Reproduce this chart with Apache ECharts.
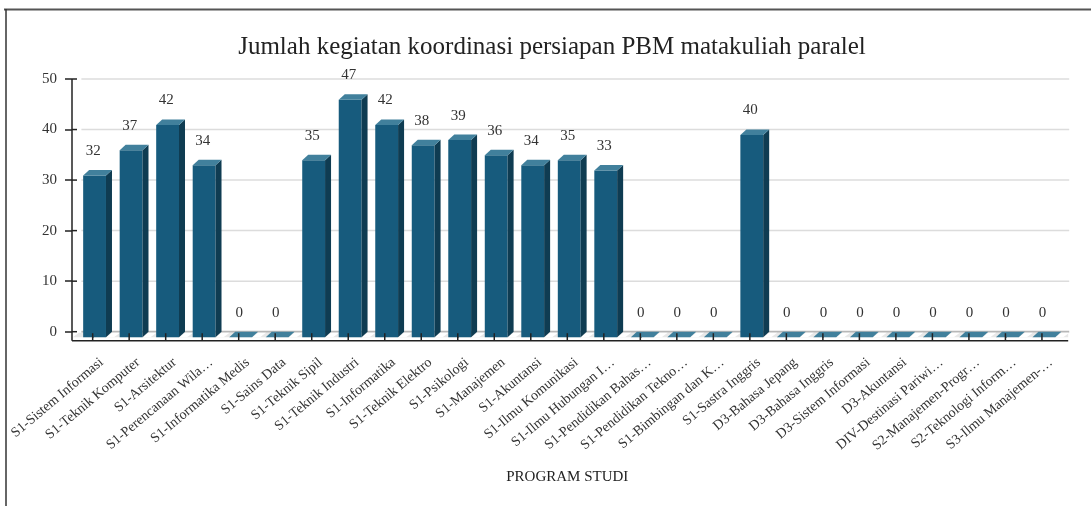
<!DOCTYPE html>
<html><head><meta charset="utf-8">
<script src="https://cdn.jsdelivr.net/npm/echarts@6/dist/echarts.min.js"></script>
<style>html,body{margin:0;padding:0;background:#fff}#c{width:1091px;height:506px}</style>
</head><body><div id="c"></div>
<script>
const titleText = 'Jumlah kegiatan koordinasi persiapan PBM matakuliah paralel';
const axisName = 'PROGRAM STUDI';
const categories = [
  'S1-Sistem Informasi', 'S1-Teknik Komputer', 'S1-Arsitektur', 'S1-Perencanaan Wila…',
  'S1-Informatika Medis', 'S1-Sains Data', 'S1-Teknik Sipil', 'S1-Teknik Industri',
  'S1-Informatika', 'S1-Teknik Elektro', 'S1-Psikologi', 'S1-Manajemen', 'S1-Akuntansi',
  'S1-Ilmu Komunikasi', 'S1-Ilmu Hubungan I…', 'S1-Pendidikan Bahas…', 'S1-Pendidikan Tekno…',
  'S1-Bimbingan dan K…', 'S1-Sastra Inggris', 'D3-Bahasa Jepang', 'D3-Bahasa Inggris',
  'D3-Sistem Informasi', 'D3-Akuntansi', 'DIV-Destinasi Pariwi…', 'S2-Manajemen-Progr…',
  'S2-Teknologi Inform…', 'S3-Ilmu Manajemen-…'
];
const values = [32, 37, 42, 34, 0, 0, 35, 47, 42, 38, 39, 36, 34, 35, 33, 0, 0, 0, 40, 0, 0, 0, 0, 0, 0, 0, 0];
const yTicks = [0, 10, 20, 30, 40, 50];

const FONT = '"Liberation Serif", "Times New Roman", serif';
const DX = 6, DY = 5.5, AX_OFF = 9, Y_OFF = 2.4;

const chart = echarts.init(document.getElementById('c'));

function frameItem(params, api) {
  const cs = params.coordSys;
  const gx = cs.x, right = cs.x + cs.width;
  const y0 = api.coord([0, 0])[1];
  const ch = [];
  yTicks.forEach(function (k) {
    const y = api.coord([0, k])[1];
    ch.push({type: 'line', shape: {x1: gx + 7, y1: y, x2: right + 9, y2: y},
      style: {stroke: k === 0 ? '#b8b8b8' : '#dcdcdc', lineWidth: k === 0 ? 2 : 1.5}});
  });
  ch.push({type: 'polygon', shape: {points: [[gx - 1.5, y0 + DY], [right + 8, y0 + DY], [right + 8, y0 + 1], [gx - 1.5 + DX, y0 + 1]]},
    style: {fill: '#e8e8e8'}});
  return {type: 'group', children: ch};
}

function overlayItem(params, api) {
  const cs = params.coordSys;
  const gx = cs.x, right = cs.x + cs.width;
  const y0 = api.coord([0, 0])[1];
  const axX = gx - Y_OFF, axY = y0 + AX_OFF;
  const ch = [];
  ch.push({type: 'line', shape: {x1: axX, y1: cs.y, x2: axX, y2: axY}, style: {stroke: '#222', lineWidth: 1.5}});
  ch.push({type: 'line', shape: {x1: axX, y1: axY, x2: right + 8, y2: axY}, style: {stroke: '#222', lineWidth: 1.5}});
  yTicks.forEach(function (k) {
    const y = api.coord([0, k])[1];
    ch.push({type: 'line', shape: {x1: axX, y1: y, x2: axX + 5, y2: y}, style: {stroke: '#222', lineWidth: 1.5}});
  });
  categories.forEach(function (c, i) {
    const x = api.coord([i, 0])[0];
    ch.push({type: 'line', shape: {x1: x, y1: axY - 7.5, x2: x, y2: axY}, style: {stroke: '#222', lineWidth: 1.5}});
  });
  return {type: 'group', children: ch};
}

function barItem(params, api) {
  const i = api.value(0), v = api.value(1);
  const base = api.coord([i, 0]);
  const top = api.coord([i, v]);
  const band = api.size([1, 0])[0];
  const cx = base[0], y0 = base[1], yt = top[1];
  const L = cx - band * 0.26, R = cx + band * 0.365;
  const fb = y0 + DY, ft = yt + DY;
  const ch = [];
  ch.push({type: 'polygon', shape: {points: [[R, fb], [R + 8, fb], [R + 8 + DX, y0 + 1], [R + DX, y0 + 1]]}, style: {fill: '#ffffff'}});
  if (fb - ft > 0.5) {
    ch.push({type: 'rect', shape: {x: L, y: ft, width: R - L, height: fb - ft}, style: {fill: '#175b7d'}});
    ch.push({type: 'polygon', shape: {points: [[R, ft], [R + DX, yt], [R + DX, y0], [R, fb]]}, style: {fill: '#0f3c52'}});
  }
  ch.push({type: 'polygon', shape: {points: [[L, ft], [R, ft], [R + DX, yt], [L + DX, yt]]}, style: {fill: '#41809c'}});
  ch.push({type: 'text', x: cx + 0.5, y: yt - 19,
    style: {text: String(v), align: 'center', verticalAlign: 'middle', font: '15px ' + FONT, fill: '#333'}});
  ch.push({type: 'text', x: cx + 9, y: y0 + 29, rotation: 40 * Math.PI / 180,
    style: {text: categories[i], align: 'right', verticalAlign: 'middle', font: '14px ' + FONT, fill: '#333'}});
  return {type: 'group', children: ch};
}

chart.setOption({
  backgroundColor: '#ffffff',
  animation: false,
  title: {
    text: titleText, left: 547, top: 30, textAlign: 'center',
    textStyle: {fontFamily: FONT, fontSize: 25, fontWeight: 'normal', color: '#222'}
  },
  grid: {left: 74.4, right: 30.8, top: 79, bottom: 174.3, containLabel: false},
  xAxis: {
    type: 'category', data: categories, offset: AX_OFF,
    axisLine: {show: false},
    axisTick: {show: true, length: 6, alignWithLabel: true, lineStyle: {color: '#222', width: 1.5}},
    axisLabel: {show: false},
    name: axisName, nameLocation: 'middle', nameGap: 129,
    nameTextStyle: {fontFamily: FONT, fontSize: 15, color: '#222'}
  },
  yAxis: {
    type: 'value', min: 0, max: 50, interval: 10, offset: Y_OFF,
    axisLine: {show: false},
    axisTick: {show: true, length: 7, lineStyle: {color: '#222', width: 1.5}},
    axisLabel: {margin: 15, fontFamily: FONT, fontSize: 15, color: '#333'},
    splitLine: {show: false}
  },
  graphic: [
    {type: 'line', shape: {x1: 4, y1: 9.5, x2: 1091, y2: 9.5}, style: {stroke: '#555', lineWidth: 2}},
    {type: 'line', shape: {x1: 6, y1: 9, x2: 6, y2: 506}, style: {stroke: '#333', lineWidth: 1.5}}
  ],
  series: [
    {type: 'custom', z: 1, silent: true, clip: false, data: [[0, 0]], renderItem: frameItem},
    {type: 'custom', z: 2, silent: true, clip: false, data: values.map(function (v, i) { return [i, v]; }), renderItem: barItem},
    {type: 'custom', z: 3, silent: true, clip: false, data: [[0, 0]], renderItem: overlayItem}
  ]
});
</script>
</body></html>
